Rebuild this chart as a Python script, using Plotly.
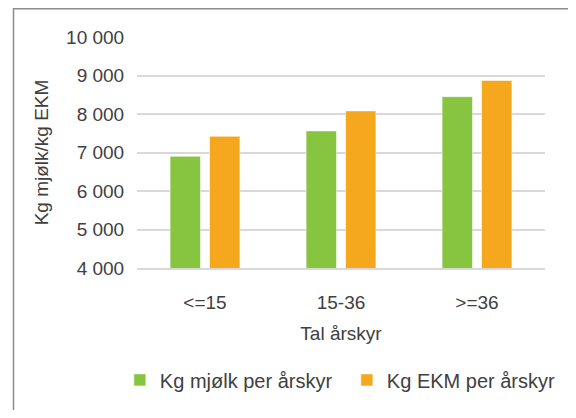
import plotly.graph_objects as go

categories = ["<=15", "15-36", ">=36"]
mjolk = [6900, 7560, 8450]
ekm = [7420, 8080, 8870]
series_names = ["Kg mjølk per årskyr", "Kg EKM per årskyr"]
tick_vals = [4000, 5000, 6000, 7000, 8000, 9000, 10000]
tick_text = ["4 000", "5 000", "6 000", "7 000", "8 000", "9 000", "10 000"]

GREEN = "#87C440"
ORANGE = "#F5A81D"
FONT = "Liberation Sans, Arial, sans-serif"
TXT = "#404040"

fig = go.Figure()
fig.add_trace(go.Bar(x=categories, y=mjolk, name=series_names[0],
                     marker=dict(color=GREEN, line=dict(color="#ffffff", width=0.5))))
fig.add_trace(go.Bar(x=categories, y=ekm, name=series_names[1],
                     marker=dict(color=ORANGE, line=dict(color="#ffffff", width=0.5))))

# page body adds an 8px offset; plot area sits at x 137-545, y 37-268 in the window
fig.update_layout(
    width=560, height=402,
    margin=dict(l=129, r=23, t=29, b=142, autoexpand=False),
    paper_bgcolor="white", plot_bgcolor="white",
    barmode="group", bargap=0.42, bargroupgap=0.23,
    font=dict(family=FONT, size=19, color=TXT),
    showlegend=True,
    legend=dict(orientation="h", x=-0.042, y=-0.40, xanchor="left", yanchor="top",
                font=dict(size=20, color=TXT), itemwidth=30, entrywidth=182,
                entrywidthmode="pixels", bgcolor="rgba(0,0,0,0)"),
    xaxis=dict(
        showgrid=False, showline=True, linecolor="#d9d9d9", linewidth=1.5,
        ticks="outside", ticklen=16, tickcolor="rgba(0,0,0,0)",
        tickfont=dict(size=19, color=TXT),
        title=dict(text="Tal årskyr", font=dict(size=19, color=TXT), standoff=15),
    ),
    yaxis=dict(
        range=[4000, 10000], tickvals=tick_vals, ticktext=tick_text,
        showgrid=True, gridcolor="#d9d9d9", gridwidth=1.5,
        zeroline=False, showline=False,
        ticks="outside", ticklen=8, tickcolor="rgba(0,0,0,0)",
        tickfont=dict(size=19, color=TXT),
        title=dict(text="Kg mjølk/kg EKM", font=dict(size=19, color=TXT), standoff=12),
    ),
    shapes=[dict(type="rect", xref="paper", yref="paper",
                 x0=(13.5 - 137) / 408, x1=(569.5 - 137) / 408,
                 y0=(268 - 425) / 231, y1=(268 - 8.8) / 231,
                 line=dict(color="#8c8c8c", width=1.5), fillcolor="rgba(0,0,0,0)",
                 layer="below")],
)

fig.write_html("out.html")
